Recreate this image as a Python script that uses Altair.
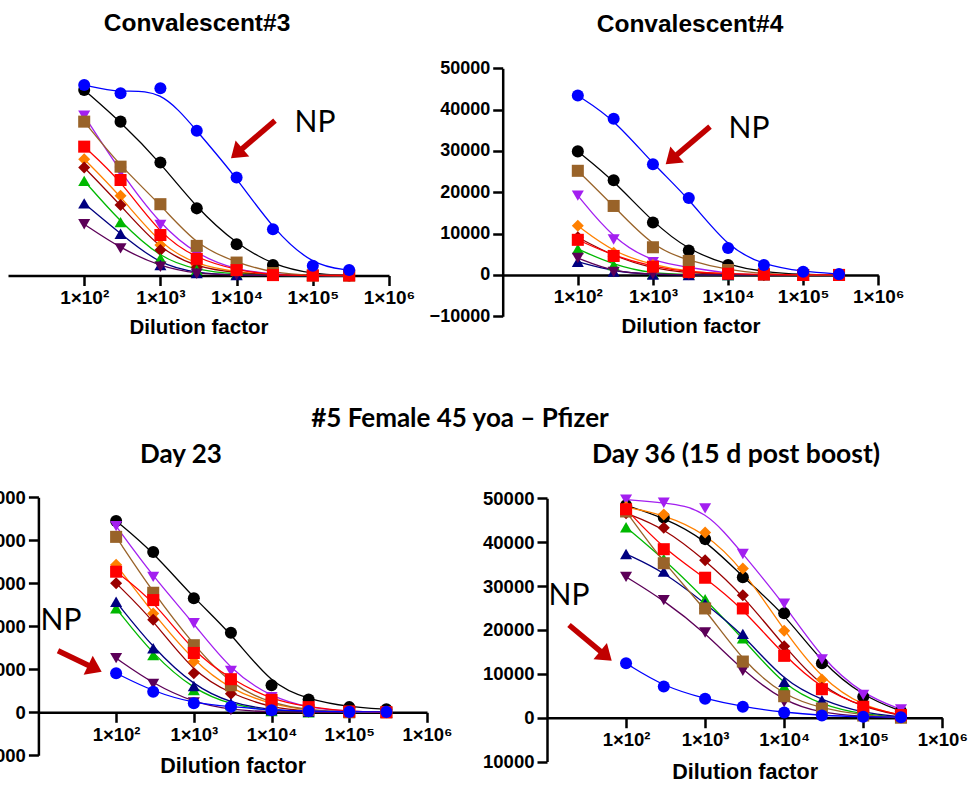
import math
import altair as alt
import pandas as pd

W, H = 972, 788

# ---------------- data ----------------
DILUTION = [100, 300, 1000, 3000, 10000, 30000, 100000, 300000]

SERIES = ["black", "violet", "orange", "dark red", "green", "navy", "purple", "brown", "red", "NP"]
SERIES_COLORS = ["#000000", "#a31ff0", "#ff8000", "#990000", "#00b800", "#000080",
                 "#5c0058", "#996329", "#ff0000", "#0000ff"]
SERIES_SHAPES = ["circle", "triangle-down", "diamond", "diamond", "triangle-up", "triangle-up",
                 "triangle-down", "square", "square", "circle"]

CONV3 = {
    "black":    [44500, 36900, 27100, 16100, 7500, 2500, 300, 0],
    "violet":   [38300, 24800, 12100, 4900, 1300, 300, 0, 0],
    "orange":   [27900, 19100, 7300, 2500, 800, 100, 0, 0],
    "dark red": [25900, 16900, 6100, 2000, 600, 100, 0, 0],
    "green":    [22700, 12800, 4100, 1300, 300, 0, 0, 0],
    "navy":     [17300, 10000, 2500, 600, 100, 0, 0, 0],
    "purple":   [12300, 6500, 2100, 400, 100, 0, 0, 0],
    "brown":    [36900, 26100, 17100, 7100, 3100, 600, 0, 0],
    "red":      [30900, 22900, 9700, 4000, 1300, 100, 0, 0],
    "NP":       [45700, 43700, 44900, 34700, 23500, 11100, 2350, 1300],
}
CONV4 = {
    "black":    [29900, 22900, 12700, 5900, 2400, 700, 100, 0],
    "violet":   [19200, 8600, 3100, 1900, 300, 0, 0, 0],
    "orange":   [11900, 5400, 2400, 800, 200, 0, 0, 0],
    "dark red": [9100, 4500, 1500, 500, 100, 0, 0, 0],
    "green":    [6300, 2400, 300, 100, 0, 0, 0, 0],
    "navy":     [3200, 800, 100, 0, 0, 0, 0, 0],
    "purple":   [4100, 700, 200, 0, 0, 0, 0, 0],
    "brown":    [25200, 16700, 6700, 3400, 1200, 300, 0, 0],
    "red":      [8500, 4600, 2000, 700, 300, 100, 0, 0],
    "NP":       [43400, 37800, 26800, 18600, 6500, 2400, 800, 200],
}
DAY23 = {
    "black":    [44500, 37300, 26500, 18500, 6300, 3000, 1200, 700],
    "violet":   [43300, 31500, 20700, 9600, 3500, 1000, 200, 0],
    "orange":   [34300, 23000, 11800, 5200, 1800, 400, 0, 0],
    "dark red": [30000, 21500, 9100, 4300, 1000, 200, 0, 0],
    "green":    [24200, 13300, 5200, 1700, 300, 0, 0, 0],
    "navy":     [25700, 14900, 6100, 2100, 500, 100, 0, 0],
    "purple":   [12600, 6600, 2300, 500, 100, 0, 0, 0],
    "brown":    [40800, 27800, 15600, 6300, 2000, 500, 0, 0],
    "red":      [32700, 26100, 13800, 7700, 2900, 1200, 200, 0],
    "NP":       [9100, 4800, 2100, 1300, 500, 300, 100, 100],
}
DAY36 = {
    "black":    [48400, 45600, 40700, 32000, 23800, 12400, 4800, 1500],
    "violet":   [49700, 49000, 47700, 37300, 26000, 13300, 5200, 1900],
    "orange":   [48000, 46300, 42200, 34000, 19800, 8700, 2500, 600],
    "dark red": [46600, 43300, 35900, 27900, 16300, 6800, 2300, 500],
    "green":    [43400, 36200, 27000, 18100, 7100, 2900, 700, 100],
    "navy":     [37300, 33300, 26000, 19100, 8200, 4000, 1000, 200],
    "purple":   [32100, 26800, 19400, 10700, 3600, 1000, 300, 0],
    "brown":    [47000, 35200, 24900, 12800, 4900, 2100, 500, 0],
    "red":      [47500, 38400, 31900, 24900, 14100, 6500, 2500, 600],
    "NP":       [12400, 7100, 4300, 2500, 1200, 500, 200, 100],
}

X_TICKS = [100, 1000, 10000, 100000, 1000000]
Y_TICKS = [-10000, 0, 10000, 20000, 30000, 40000, 50000]

# ---------------- layout (pixels) ----------------
# x0/x1: pixel of 1e1 / 1e6 ; ylo/yhi: pixel of -10000 / 50000
PANELS = [
    dict(data=CONV3, x0=8.0, x1=389.0, ylo=317.2, yhi=67.0, show_y=False,
         xlab=19, ylab=18, ttl=20.5, tpad=10, abs_lab=False),
    dict(data=CONV4, x0=502.7, x1=878.3, ylo=316.3, yhi=68.3, show_y=True,
         xlab=19, ylab=18, ttl=20.5, tpad=10, abs_lab=False),
    dict(data=DAY23, x0=38.4, x1=427.0, ylo=755.3, yhi=497.3, show_y=True,
         xlab=18.5, ylab=18.5, ttl=21.5, tpad=12, abs_lab=False),
    dict(data=DAY36, x0=547.0, x1=942.3, ylo=761.6, yhi=498.3, show_y=True,
         xlab=18.5, ylab=18.5, ttl=21.5, tpad=12, abs_lab=True),
]

X_LABEL = ("'1×10' + (datum.value > 5e5 ? '⁶' : datum.value > 5e4 ? '⁵' : "
           "datum.value > 5e3 ? '⁴' : datum.value > 500 ? '³' : '²')")

color_scale = alt.Scale(domain=SERIES, range=SERIES_COLORS)
shape_scale = alt.Scale(domain=SERIES, range=SERIES_SHAPES)


def panel_df(values):
    rows = []
    for k, name in enumerate(SERIES):
        for d, v in zip(DILUTION, values[name]):
            rows.append({"series": name, "dilution": d, "value": v, "order": k})
    return pd.DataFrame(rows)


def make_panel(p):
    df = panel_df(p["data"])
    y_zero = p["ylo"] + (p["yhi"] - p["ylo"]) / 6.0
    xs = alt.Scale(type="log", domain=[10, 1000000], range=[p["x0"], p["x1"]], nice=False)
    ys = alt.Scale(domain=[-10000, 50000], range=[p["ylo"], p["yhi"]], nice=False, zero=False)
    common = dict(domainColor="black", domainWidth=2.5, tickColor="black", tickWidth=2.5,
                  tickSize=10, labelColor="black", labelFont="Liberation Sans",
                  labelFontWeight="bold", labelPadding=3, grid=False,
                  labelOverlap=False, labelFlush=False)
    xaxis = alt.Axis(orient="bottom", offset=y_zero - H, values=X_TICKS, labelExpr=X_LABEL,
                     labelFontSize=p["xlab"], title="Dilution factor",
                     titleFont="Liberation Sans", titleFontWeight="bold",
                     titleFontSize=p["ttl"], titleColor="black", titlePadding=p["tpad"],
                     **common)
    if p["show_y"]:
        yaxis = alt.Axis(orient="left", offset=-p["x0"], values=Y_TICKS,
                         labelExpr=("format(abs(datum.value), 'd')" if p["abs_lab"]
                                    else "format(datum.value, 'd')"),
                         labelFontSize=p["ylab"], title=None, **common)
    else:
        yaxis = None
    base = alt.Chart(df).encode(
        x=alt.X("dilution:Q", scale=xs, axis=xaxis),
        y=alt.Y("value:Q", scale=ys, axis=yaxis),
        color=alt.Color("series:N", scale=color_scale, legend=None),
    )
    lines = base.mark_line(interpolate="basis", strokeWidth=1.3).encode(
        detail="series:N", order="dilution:Q")
    points = base.mark_point(filled=True, opacity=1, size=145, strokeWidth=0).encode(
        shape=alt.Shape("series:N", scale=shape_scale, legend=None),
        order="order:Q")
    return alt.layer(lines, points)


def label(text, x, y, size, weight="bold", font="Liberation Sans"):
    return alt.Chart(pd.DataFrame({"t": [text]})).mark_text(
        font=font, fontSize=size, fontWeight=weight, color="black",
        align="center", baseline="alphabetic").encode(
        x=alt.value(x), y=alt.value(y), text="t:N")


ARROW_RED = "#c00000"
HEAD_PATH = "M0,0 L-0.7,1 L0.7,1 Z"
HEAD_LEN = 15
ARROWS = [  # tail, tip (pixels)
    ((275.0, 120.7), (231.0, 158.3)),
    ((710.0, 126.7), (665.7, 164.3)),
    ((58.0, 650.7), (101.7, 671.7)),
    ((569.0, 625.0), (611.7, 660.7)),
]


def arrow(tail, tip):
    (tx, ty), (hx, hy) = tail, tip
    dx, dy = hx - tx, hy - ty
    L = math.hypot(dx, dy)
    ux, uy = dx / L, dy / L
    ang = math.degrees(math.atan2(ux, -uy)) % 360
    ex, ey = hx - (HEAD_LEN - 4) * ux, hy - (HEAD_LEN - 4) * uy
    one = pd.DataFrame({"a": [1]})
    shaft = alt.Chart(one).mark_rule(color=ARROW_RED, strokeWidth=5.5, strokeCap="butt").encode(
        x=alt.value(tx), y=alt.value(ty), x2=alt.value(ex), y2=alt.value(ey))
    head = alt.Chart(one).mark_point(shape=HEAD_PATH, filled=True, opacity=1, strokeWidth=0,
                                     color=ARROW_RED, size=(2 * HEAD_LEN) ** 2, angle=ang).encode(
        x=alt.value(hx), y=alt.value(hy))
    return [shaft, head]


layers = [make_panel(p) for p in PANELS]

layers += [
    label("Convalescent#3", 197, 31, 24.5),
    label("Convalescent#4", 690, 32, 24.5),
    label("#5 Female 45 yoa – Pfizer", 460, 427, 26, font="Lato"),
    label("Day 23", 181, 463, 26, font="Lato"),
    label("Day 36 (15 d post boost)", 736, 463, 26.5, font="Lato"),
    label("NP", 315, 132, 30, weight="normal", font="Lato"),
    label("NP", 749, 138, 30, weight="normal", font="Lato"),
    label("NP", 61, 630, 30, weight="normal", font="Lato"),
    label("NP", 569, 605, 30, weight="normal", font="Lato"),
]
for t, h in ARROWS:
    layers += arrow(t, h)

chart = alt.layer(*layers).resolve_scale(
    x="independent", y="independent"
).resolve_axis(
    x="independent", y="independent"
).properties(
    width=W, height=H, padding=0, background="white",
    autosize=alt.AutoSizeParams(type="none"),
).configure_view(stroke=None)

chart.save("out.html", embed_options={"renderer": "svg", "actions": False})
